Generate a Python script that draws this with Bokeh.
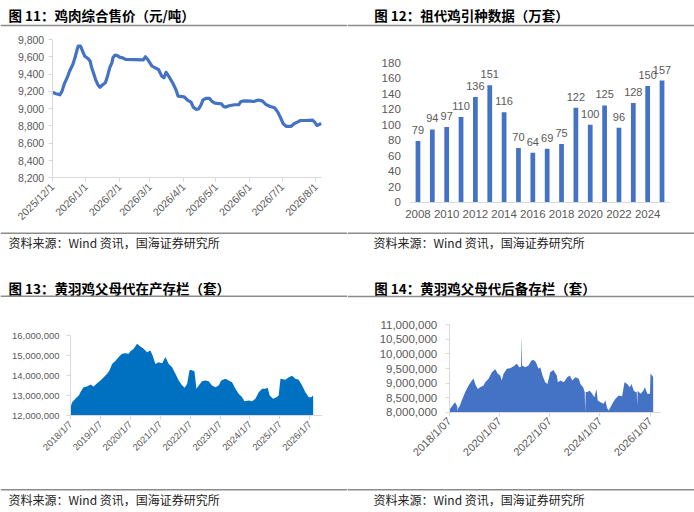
import math
import pandas as pd
from bokeh.plotting import figure
from bokeh.models import (Range1d, FixedTicker, NumeralTickFormatter, Label, Span,
                          LabelSet, ColumnDataSource)
from bokeh.layouts import row, column
from bokeh.embed import file_html
from bokeh.resources import INLINE
from bokeh.core.properties import value

# ---------------- data ----------------
titles = ["图 11：鸡肉综合售价（元/吨）", "图 12：祖代鸡引种数据（万套）",
          "图 13：黄羽鸡父母代在产存栏（套）", "图 14：黄羽鸡父母代后备存栏（套）"]
source_text = "资料来源：Wind 资讯，国海证券研究所"

# Fig 11: chicken price (yuan/ton)
price_start = "2025-12-01"
price_end = "2026-08-06"
price_dates = [
    "2025-12-01", "2025-12-04", "2025-12-08", "2025-12-10", "2025-12-12", "2025-12-15", "2025-12-17", "2025-12-20", "2025-12-22", "2025-12-24",
    "2025-12-25", "2025-12-27", "2025-12-29", "2025-12-31", "2026-01-03", "2026-01-05", "2026-01-06", "2026-01-08", "2026-01-10", "2026-01-12",
    "2026-01-14", "2026-01-16", "2026-01-19", "2026-01-21", "2026-01-23", "2026-01-25", "2026-01-26", "2026-01-28", "2026-01-30", "2026-02-01",
    "2026-02-04", "2026-02-07", "2026-02-23", "2026-02-25", "2026-02-27", "2026-03-03", "2026-03-06", "2026-03-09", "2026-03-12", "2026-03-14",
    "2026-03-16", "2026-03-19", "2026-03-22", "2026-03-25", "2026-03-27", "2026-03-31", "2026-04-02", "2026-04-05", "2026-04-08", "2026-04-10",
    "2026-04-13", "2026-04-15", "2026-04-17", "2026-04-19", "2026-04-22", "2026-04-25", "2026-04-27", "2026-04-30", "2026-05-06", "2026-05-08",
    "2026-05-10", "2026-05-13", "2026-05-18", "2026-05-22", "2026-05-24", "2026-05-27", "2026-06-02", "2026-06-05", "2026-06-09", "2026-06-13",
    "2026-06-16", "2026-06-20", "2026-06-24", "2026-06-27", "2026-06-30", "2026-07-02", "2026-07-05", "2026-07-09", "2026-07-12", "2026-07-15",
    "2026-07-18", "2026-07-23", "2026-07-29", "2026-07-31", "2026-08-02", "2026-08-04", "2026-08-06"]
price_vals = [
    9190, 9175, 9160, 9200, 9280, 9364, 9433, 9510, 9588, 9684,
    9725, 9725, 9665, 9607, 9580, 9549, 9491, 9415, 9337, 9280,
    9248, 9271, 9299, 9376, 9472, 9530, 9588, 9620, 9615, 9596,
    9588, 9569, 9565, 9600, 9569, 9492, 9472, 9453, 9376, 9357,
    9420, 9364, 9299, 9222, 9145, 9140, 9133, 9095, 9075, 9018,
    8990, 8998, 9037, 9102, 9120, 9120, 9087, 9064, 9056, 9025,
    9018, 9033, 9045, 9045, 9083, 9090, 9088, 9083, 9100, 9087,
    9048, 9025, 9010, 8960, 8883, 8825, 8794, 8794, 8825, 8844,
    8863, 8863, 8868, 8844, 8806, 8817, 8830]
price_xtick_labels = ["2025/12/1", "2026/1/1", "2026/2/1", "2026/3/1", "2026/4/1",
                      "2026/5/1", "2026/6/1", "2026/7/1", "2026/8/1"]
price_yticks = [8200, 8400, 8600, 8800, 9000, 9200, 9400, 9600, 9800]

# Fig 12: grandparent imports (10k sets)
gp_years = [2008, 2009, 2010, 2011, 2012, 2013, 2014, 2015, 2016,
            2017, 2018, 2019, 2020, 2021, 2022, 2023, 2024, 2025]
gp_vals = [79, 94, 97, 110, 136, 151, 116, 70, 64, 69, 75, 122, 100, 125, 96, 128, 150, 157]
gp_xticks = [2008, 2010, 2012, 2014, 2016, 2018, 2020, 2022, 2024]
gp_yticks = [0, 20, 40, 60, 80, 100, 120, 140, 160, 180]

# shared date axis of figs 13/14
stock_axis_start = "2018-01-07"
stock_axis_end = "2026-06-10"

# Fig 13: parent stock in production (sets)
prod_dates = [
    "2018-01-07", "2018-01-28", "2018-03-08", "2018-04-18", "2018-05-20", "2018-06-17", "2018-07-28", "2018-09-07", "2018-10-17", "2018-11-28",
    "2019-01-08", "2019-02-17", "2019-03-30", "2019-04-27", "2019-05-30", "2019-07-09", "2019-08-18", "2019-09-28", "2019-11-07", "2019-12-18",
    "2020-01-09", "2020-02-18", "2020-03-30", "2020-05-09", "2020-06-18", "2020-07-30", "2020-09-08", "2020-10-06", "2020-11-08", "2020-12-18",
    "2021-01-30", "2021-03-11", "2021-04-20", "2021-05-31", "2021-07-11", "2021-08-20", "2021-10-01", "2021-11-01", "2021-12-01", "2021-12-29",
    "2022-01-10", "2022-02-28", "2022-03-24", "2022-04-21", "2022-06-01", "2022-07-11", "2022-08-20", "2022-10-01", "2022-11-10", "2022-12-21",
    "2023-01-20", "2023-03-13", "2023-04-22", "2023-06-02", "2023-07-13", "2023-08-22", "2023-10-03", "2023-10-31", "2023-12-23", "2024-02-02",
    "2024-03-13", "2024-04-23", "2024-06-03", "2024-07-13", "2024-08-10", "2024-09-03", "2024-10-15", "2024-11-24", "2024-12-22", "2025-01-13",
    "2025-03-15", "2025-04-24", "2025-06-04", "2025-07-14", "2025-08-23", "2025-10-04", "2025-11-13", "2025-12-24", "2026-01-23", "2026-02-16"]
prod_vals = [
    12420000, 12670000, 12840000, 13000000, 13250000, 13420000, 13450000, 13550000, 13450000, 13620000,
    13760000, 13920000, 14090000, 14260000, 14590000, 14730000, 14930000, 15100000, 15130000, 15100000,
    15230000, 15350000, 15600000, 15460000, 15350000, 15180000, 15260000, 15010000, 14590000, 14670000,
    14620000, 14930000, 14590000, 14420000, 14090000, 13760000, 13500000, 13390000, 13590000, 14260000,
    14290000, 14220000, 13340000, 13500000, 13720000, 13760000, 13720000, 13500000, 13420000, 13500000,
    13760000, 13840000, 13760000, 13670000, 13340000, 13090000, 12920000, 12720000, 12750000, 12720000,
    12840000, 13170000, 13340000, 13340000, 13390000, 13000000, 12840000, 12920000, 13000000, 13840000,
    13790000, 13920000, 14000000, 13840000, 13790000, 13500000, 13170000, 12920000, 12920000, 13000000]
prod_xtick_labels = ["2018/1/7", "2019/1/7", "2020/1/7", "2021/1/7", "2022/1/7",
                     "2023/1/7", "2024/1/7", "2025/1/7", "2026/1/7"]
prod_yticks = [12000000, 13000000, 14000000, 15000000, 16000000]

# Fig 14: parent stock in reserve (sets)
res_dates = [
    "2018-01-07", "2018-01-21", "2018-02-24", "2018-04-03", "2018-04-27", "2018-05-04", "2018-05-11", "2018-05-18", "2018-06-01", "2018-07-09",
    "2018-08-28", "2018-10-16", "2018-12-03", "2018-12-28", "2019-01-20", "2019-02-27", "2019-04-03", "2019-05-21", "2019-06-15", "2019-08-02",
    "2019-09-19", "2019-11-07", "2019-12-15", "2020-01-18", "2020-02-10", "2020-03-07", "2020-04-24", "2020-06-12", "2020-07-31", "2020-09-17",
    "2020-10-22", "2020-11-17", "2020-11-24", "2020-12-01", "2021-01-16", "2021-03-05", "2021-04-13", "2021-05-16", "2021-06-19", "2021-07-28",
    "2021-08-22", "2021-09-25", "2021-11-03", "2021-12-06", "2022-01-14", "2022-03-03", "2022-04-20", "2022-05-05", "2022-06-13", "2022-07-31",
    "2022-09-19", "2022-10-27", "2022-12-01", "2023-01-16", "2023-03-05", "2023-03-30", "2023-05-08", "2023-05-31", "2023-06-07", "2023-06-14",
    "2023-07-05", "2023-08-12", "2023-09-16", "2023-10-19", "2023-11-17", "2023-12-06", "2024-01-14", "2024-03-02", "2024-03-27", "2024-04-21",
    "2024-05-14", "2024-06-08", "2024-07-17", "2024-08-20", "2024-10-07", "2024-11-25", "2024-12-29", "2025-02-07", "2025-03-17", "2025-04-10",
    "2025-05-14", "2025-06-08", "2025-06-25", "2025-07-02", "2025-07-09", "2025-08-20", "2025-09-28", "2025-10-22", "2025-11-26", "2025-12-30",
    "2026-01-04", "2026-01-11", "2026-02-05", "2026-02-19"]
res_vals = [
    8100000, 8120000, 8230000, 8340000, 8230000, 8200000, 8020000, 8150000, 8170000, 8400000,
    8690000, 8920000, 9090000, 9150000, 8970000, 8800000, 8860000, 8920000, 9030000, 9150000,
    9370000, 9470000, 9320000, 9260000, 9090000, 9320000, 9490000, 9510000, 9580000, 9660000,
    9540000, 9560000, 10630000, 9600000, 9540000, 9600000, 9770000, 9800000, 9720000, 9490000,
    9540000, 9260000, 9030000, 8970000, 9370000, 9450000, 9260000, 9030000, 9090000, 9030000,
    9200000, 9260000, 9090000, 9200000, 9150000, 8970000, 8860000, 8690000, 8000000, 8690000,
    8690000, 8740000, 8630000, 8510000, 8800000, 8400000, 8340000, 8290000, 8400000, 8140000,
    8060000, 8170000, 8340000, 8460000, 8570000, 8550000, 9030000, 8970000, 8860000, 8970000,
    8740000, 8690000, 8690000, 8230000, 8740000, 8630000, 8740000, 8860000, 8630000, 8630000,
    8630000, 9320000, 9260000, 9200000]
res_xtick_labels = ["2018/1/07", "2020/1/07", "2022/1/07", "2024/1/07", "2026/1/07"]
res_yticks = [8000000, 8500000, 9000000, 9500000, 10000000, 10500000, 11000000]

# ---------------- style ----------------
PW, PH = 347, 256
CJK = "Noto Sans CJK SC"
NUM = "Liberation Sans"
TXT = "#595959"
AXIS = "#d9d9d9"
RULE = "#8c8c8c"
BLUE = "#4472C4"
DARK = "#0070C0"


def days_since(dates, start):
    d = (pd.to_datetime(dates) - pd.Timestamp(start)).days
    return [float(v) for v in d]


def panel(xlim, px_lr, ylim, px_bt, title, title_x, title_y, rule_top,
          rule_bot, src_x, src_y):
    """One panel: the whole canvas is the frame; the data region is placed
    at the given pixel box and the axes are pinned to its edges."""
    x0, x1 = xlim
    pl, pr = px_lr
    sx = (pr - pl) / (x1 - x0)
    y0, y1 = ylim
    pb, pt = px_bt
    sy = (pb - pt) / (y1 - y0)
    p = figure(width=PW, height=PH,
               x_range=Range1d(x0 - pl / sx, x1 + (PW - pr) / sx),
               y_range=Range1d(y0 - (PH - pb) / sy, y1 + pt / sy),
               output_backend="svg", toolbar_location=None,
               min_border=0, min_border_left=0, min_border_right=0,
               min_border_top=0, min_border_bottom=0)
    p.extra_x_ranges = {"px": Range1d(0, PW)}
    p.extra_y_ranges = {"py": Range1d(PH, 0)}
    p.grid.visible = False
    p.outline_line_color = None
    p.xaxis.fixed_location = y0
    p.xaxis.bounds = (x0, x1)
    p.yaxis.fixed_location = x0
    p.yaxis.bounds = (y0, y1)
    for ax in p.axis:
        ax.axis_line_color = AXIS
        ax.major_tick_line_color = AXIS
        ax.minor_tick_line_color = None
        ax.major_tick_in = 0
        ax.major_tick_out = 4
        ax.major_label_text_color = TXT
        ax.major_label_text_font = NUM
    p.add_layout(Label(x=title_x, y=title_y, x_range_name="px", y_range_name="py",
                       text=title, text_font=CJK, text_font_size="13.5px",
                       text_font_style="bold", text_baseline="middle",
                       text_align="left", text_color="black"))
    p.add_layout(Label(x=src_x, y=src_y, x_range_name="px", y_range_name="py",
                       text=source_text, text_font=CJK, text_font_size="12px",
                       text_baseline="middle", text_align="left", text_color="#222222"))
    for ry in (rule_top, rule_bot):
        p.add_layout(Span(location=ry, dimension="width", y_range_name="py",
                          line_color=RULE, line_width=1.5))
    return p


# ---- Fig 11 ----
px = days_since(price_dates, price_start)
pticks = days_since(price_xtick_labels, price_start)
p1 = panel((0, days_since([price_end], price_start)[0]), (51.7, 320.7),
           (8200, 9800), (177.3, 39), titles[0], 8, 14.5, 25, 232.7, 8, 242.3)
p1.line(px, price_vals, line_color=BLUE, line_width=3.2, line_join="round")
p1.yaxis.ticker = FixedTicker(ticks=price_yticks)
p1.yaxis.formatter = NumeralTickFormatter(format="0,0")
p1.yaxis.major_label_text_font_size = "10.5px"
p1.yaxis.major_label_standoff = 4
p1.xaxis.ticker = FixedTicker(ticks=pticks)
p1.xaxis.major_label_overrides = dict(zip(pticks, price_xtick_labels))
p1.xaxis.major_label_orientation = math.pi / 4
p1.xaxis.major_label_text_font_size = "10.5px"
p1.xaxis.major_label_standoff = 3

# ---- Fig 12 ----
p2 = panel((2007.5, 2025.5), (63.3, 321.7), (0, 180), (201.7, 62.3),
           titles[1], 26.7, 14.5, 25, 232.7, 26, 242.3)
p2.vbar(x=gp_years, top=gp_vals, width=0.33, fill_color=BLUE, line_color=None)
src = ColumnDataSource(dict(x=gp_years, y=gp_vals, t=[str(v) for v in gp_vals]))
p2.add_layout(LabelSet(x="x", y="y", text="t", source=src, text_align="center",
                       text_baseline="middle", y_offset=11, text_font=value(NUM),
                       text_font_size=value("11px"), text_color=TXT))
p2.yaxis.ticker = FixedTicker(ticks=gp_yticks)
p2.yaxis.axis_line_color = None
p2.yaxis.major_tick_out = 0
p2.yaxis.major_label_standoff = 10
p2.yaxis.major_label_text_font_size = "11.5px"
p2.xaxis.ticker = FixedTicker(ticks=gp_xticks)
p2.xaxis.major_tick_out = 0
p2.xaxis.major_label_standoff = 8
p2.xaxis.major_label_text_font_size = "11.5px"

# ---- Fig 13 ----
sx = days_since(prod_dates, stock_axis_start)
sticks = days_since(prod_xtick_labels, stock_axis_start)
s_end = days_since([stock_axis_end], stock_axis_start)[0]
p3 = panel((0, s_end), (70, 322), (12000000, 16000000), (159, 79.3),
           titles[2], 8, 31, 39.7, 233.3, 8, 242.7)
p3.varea(x=sx, y1=12000000, y2=prod_vals, fill_color=DARK)
p3.yaxis.ticker = FixedTicker(ticks=prod_yticks)
p3.yaxis.formatter = NumeralTickFormatter(format="0,0")
p3.yaxis.major_label_text_font_size = "9.5px"
p3.yaxis.major_label_standoff = 7
p3.xaxis.ticker = FixedTicker(ticks=sticks)
p3.xaxis.major_label_overrides = dict(zip(sticks, prod_xtick_labels))
p3.xaxis.major_label_orientation = math.pi / 4
p3.xaxis.major_label_text_font_size = "9.5px"
p3.xaxis.major_label_standoff = 3

# ---- Fig 14 ----
rx = days_since(res_dates, stock_axis_start)
rticks = days_since(res_xtick_labels, stock_axis_start)
p4 = panel((0, s_end), (101.7, 313.3), (8000000, 11000000), (155.7, 68.3),
           titles[3], 26.7, 31.3, 40, 233.3, 26, 242.7)
p4.varea(x=rx, y1=8000000, y2=res_vals, fill_color=BLUE)
p4.yaxis.ticker = FixedTicker(ticks=res_yticks)
p4.yaxis.formatter = NumeralTickFormatter(format="0,0")
p4.yaxis.major_label_text_font_size = "11.5px"
p4.yaxis.major_label_standoff = 8
p4.xaxis.ticker = FixedTicker(ticks=rticks)
p4.xaxis.major_label_overrides = dict(zip(rticks, res_xtick_labels))
p4.xaxis.major_label_orientation = math.pi / 4
p4.xaxis.major_label_text_font_size = "11px"
p4.xaxis.major_label_standoff = 3

layout = column(row(p1, p2), row(p3, p4))

open("out.html", "w").write(file_html(layout, INLINE))
